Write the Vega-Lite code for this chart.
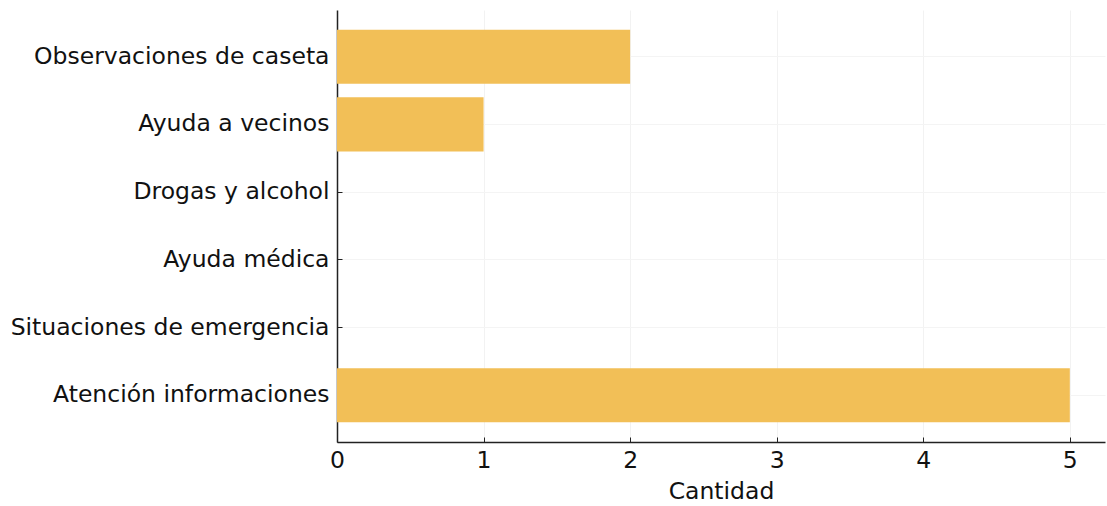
{
  "$schema": "https://vega.github.io/schema/vega-lite/v6.json",
  "width": 768,
  "height": 432,
  "autosize": {"type": "none"},
  "padding": {"left": 337, "top": 10, "right": 2, "bottom": 64},
  "background": "white",
  "config": {
    "view": {"stroke": null},
    "font": "DejaVu Sans"
  },
  "data": {
    "values": [
      {"categoria": "Observaciones de caseta", "cantidad": 2},
      {"categoria": "Ayuda a vecinos", "cantidad": 1},
      {"categoria": "Drogas y alcohol", "cantidad": 0},
      {"categoria": "Ayuda médica", "cantidad": 0},
      {"categoria": "Situaciones de emergencia", "cantidad": 0},
      {"categoria": "Atención informaciones", "cantidad": 5}
    ]
  },
  "mark": {"type": "bar", "color": "#F2BF57"},
  "encoding": {
    "y": {
      "field": "categoria",
      "type": "nominal",
      "sort": null,
      "scale": {"paddingInner": 0.2, "paddingOuter": 0.29},
      "axis": {
        "title": null,
        "labelFont": "DejaVu Sans",
        "labelFontSize": 23.5,
        "labelColor": "#111",
        "labelPadding": 13,
        "tickSize": -5,
        "tickColor": "#222",
        "domainColor": "#222",
        "domainWidth": 1.5,
        "grid": true,
        "gridColor": "#f4f4f4",
        "labelLimit": 400
      }
    },
    "x": {
      "field": "cantidad",
      "type": "quantitative",
      "scale": {"domain": [0, 5.24], "nice": false},
      "axis": {
        "title": "Cantidad",
        "titleFont": "DejaVu Sans",
        "titleFontSize": 23.5,
        "titleFontWeight": "normal",
        "titleColor": "#111",
        "titlePadding": 8,
        "values": [0, 1, 2, 3, 4, 5],
        "format": "d",
        "labelFlush": false,
        "labelFont": "DejaVu Sans",
        "labelFontSize": 23.5,
        "labelColor": "#111",
        "labelPadding": 11,
        "tickSize": -5,
        "tickColor": "#222",
        "domainColor": "#222",
        "domainWidth": 1.5,
        "grid": true,
        "gridColor": "#f2f2f2"
      }
    }
  }
}
